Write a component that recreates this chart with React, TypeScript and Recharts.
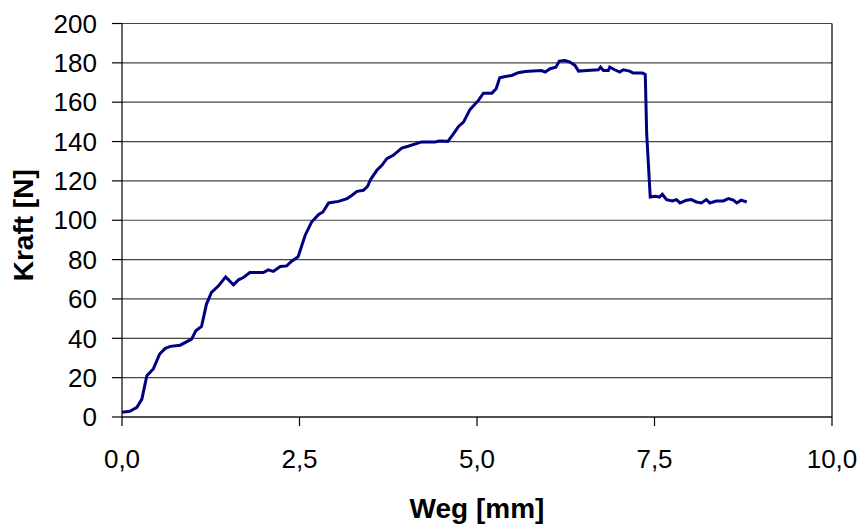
import React from 'react';
import { LineChart, Line, XAxis, YAxis, CartesianGrid, ReferenceLine } from 'recharts';

const wegMm: number[] = [
  0, 0.11, 0.21, 0.28, 0.35, 0.44, 0.53, 0.61, 0.68, 0.82,
  0.98, 1.04, 1.12, 1.19, 1.26, 1.36, 1.46, 1.57, 1.64, 1.71,
  1.8, 1.99, 2.06, 2.13, 2.23, 2.32, 2.39, 2.48, 2.58, 2.67,
  2.77, 2.83, 2.91, 3.05, 3.17, 3.24, 3.31, 3.4, 3.46, 3.5,
  3.59, 3.66, 3.73, 3.82, 3.94, 4.03, 4.22, 4.41, 4.47, 4.59,
  4.67, 4.74, 4.81, 4.9, 5.02, 5.09, 5.21, 5.27, 5.32, 5.4,
  5.49, 5.58, 5.68, 5.79, 5.91, 5.96, 6.03, 6.11, 6.16, 6.24,
  6.31, 6.38, 6.43, 6.55, 6.71, 6.74, 6.78, 6.85, 6.87, 6.94,
  7.01, 7.06, 7.15, 7.2, 7.33, 7.37, 7.39, 7.44, 7.51, 7.57,
  7.61, 7.67, 7.75, 7.81, 7.86, 7.95, 8.02, 8.09, 8.16, 8.23,
  8.28, 8.37, 8.47, 8.54, 8.61, 8.66, 8.72, 8.8,
];

const kraftN: number[] = [
  2.4, 2.9, 4.9, 9.1, 21, 24.4, 32, 34.9, 35.9, 36.5,
  39.6, 43.8, 46, 57.4, 63.3, 66.7, 71.2, 67.2, 69.7, 70.9,
  73.4, 73.4, 74.8, 74, 76.5, 76.8, 79.2, 81.4, 92.4, 99.1,
  102.9, 104.2, 108.8, 109.6, 111, 112.7, 114.7, 115.2, 117.3, 120.7,
  125.4, 127.9, 131.3, 133, 136.7, 137.6, 139.8, 139.8, 140.3, 140.1,
  144, 147.7, 149.9, 156.2, 160.9, 164.6, 164.6, 166.8, 172.4, 173.1,
  173.6, 175, 175.6, 175.8, 176.1, 175.3, 177, 177.8, 180.9, 181.2,
  180.4, 178.7, 175.8, 176.1, 176.5, 177.8, 176.1, 176.1, 177.8, 176.5,
  175.3, 176.5, 175.8, 174.8, 174.8, 174.1, 144, 111.8, 112.2, 111.8,
  113.2, 110.5, 109.8, 110.5, 108.8, 110.2, 110.5, 109.3, 108.8, 110.5,
  108.8, 109.8, 109.8, 111, 110.2, 108.8, 110.2, 109.3,
];

const xTicks: number[] = [0, 2.5, 5, 7.5, 10];
const yTicks: number[] = [0, 20, 40, 60, 80, 100, 120, 140, 160, 180, 200];

const data = wegMm.map((x, i) => ({ x, y: kraftN[i] }));

const FONT = '"Liberation Sans", Arial, sans-serif';

const YLabel = (props: any) => {
  const vb = props.viewBox || {};
  const cx = 33;
  const cy = vb.y + vb.height / 2 + 5;
  return (
    <text
      x={cx}
      y={cy}
      transform={`rotate(-90 ${cx} ${cy})`}
      textAnchor="middle"
      fontFamily={FONT}
      fontWeight="bold"
      fontSize={28}
      fill="#000"
    >
      Kraft [N]
    </text>
  );
};

export default function App() {
  return (
    <div style={{ position: 'absolute', left: 0, top: 0, width: 862, height: 526, background: '#fff' }}>
      <LineChart
        width={862}
        height={526}
        data={data}
        margin={{ top: 23.5, right: 30, left: 0, bottom: 0 }}
      >
        <CartesianGrid vertical={false} stroke="#444" strokeWidth={1.2} />
        <XAxis
          dataKey="x"
          type="number"
          domain={[0, 10]}
          ticks={xTicks}
          tickFormatter={(v: number) => v.toFixed(1).replace('.', ',')}
          height={109}
          tickSize={9}
          tickMargin={24}
          axisLine={{ stroke: '#000', strokeWidth: 1.2 }}
          tickLine={{ stroke: '#000', strokeWidth: 1.2 }}
          tick={{ fill: '#000', fontSize: 26, fontFamily: FONT }}
          label={{
            value: 'Weg [mm]',
            position: 'insideBottom',
            offset: 8,
            fill: '#000',
            fontSize: 28,
            fontWeight: 'bold',
            fontFamily: FONT,
          }}
        />
        <YAxis
          type="number"
          domain={[0, 200]}
          ticks={yTicks}
          width={122}
          tickSize={10}
          tickMargin={15}
          axisLine={{ stroke: '#000', strokeWidth: 1.2 }}
          tickLine={{ stroke: '#000', strokeWidth: 1.2 }}
          tick={{ fill: '#000', fontSize: 26, fontFamily: FONT }}
          label={{ content: YLabel }}
        />
        <ReferenceLine x={10} stroke="#000" strokeWidth={1.2} />
        <Line
          type="linear"
          dataKey="y"
          stroke="#000080"
          strokeWidth={3}
          dot={false}
          isAnimationActive={false}
        />
      </LineChart>
    </div>
  );
}
